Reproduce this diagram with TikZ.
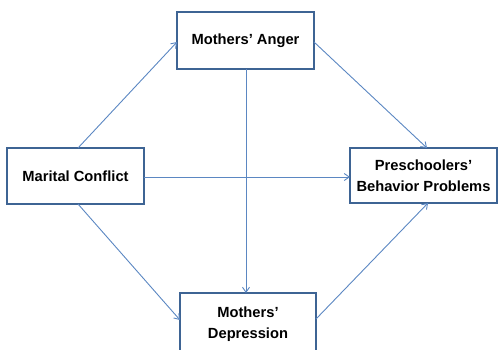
\documentclass[tikz,border=0pt]{standalone}
\usepackage{fontspec}
\setmainfont{Liberation Sans}
\usetikzlibrary{arrows.meta}
\definecolor{boxc}{HTML}{3E6494}
\definecolor{linec}{HTML}{5B87C2}
\begin{document}
\begin{tikzpicture}[x=1pt,y=-1pt,
  box/.style={draw=boxc,line width=1.3pt,fill=white,align=center,font=\bfseries\fontsize{14.7}{21}\selectfont,inner sep=0pt},
  conn/.style={draw=linec,line width=0.9pt,-{Straight Barb[length=5pt,width=7pt]}}]
\useasboundingbox (0,0) rectangle (500,349);
\node[box,minimum width=137pt,minimum height=57pt] (ma) at (245.5,40.5) {Mothers’ Anger};
\node[box,minimum width=137pt,minimum height=56pt] (mc) at (75.5,176) {Marital Conflict};
\node[box,minimum width=147pt,minimum height=55pt] (pb) at (423.5,175.5) {Preschoolers’\\Behavior Problems};
\node[box,minimum width=136pt,minimum height=62pt] (md) at (248,324) {Mothers’\\Depression};
\coordinate (mcT) at (78,148);
\coordinate (mcB) at (78,204);
\coordinate (maL) at (177,42);
\coordinate (maR) at (314,42);
\coordinate (maB) at (246,69);
\coordinate (mdT) at (246,293);
\coordinate (mdL) at (180,320);
\coordinate (mdR) at (316,319);
\coordinate (pbT) at (427,148);
\coordinate (pbB) at (428,203);
\coordinate (pbL) at (350,177);
\coordinate (mcR) at (144,177);
\draw[conn] (mcT) -- (maL);
\draw[conn] (mcB) -- (mdL);
\draw[conn] (mcR) -- (pbL);
\draw[conn] (maR) -- (pbT);
\draw[conn] (maB) -- (mdT);
\draw[conn] (mdR) -- (pbB);
\end{tikzpicture}
\end{document}
